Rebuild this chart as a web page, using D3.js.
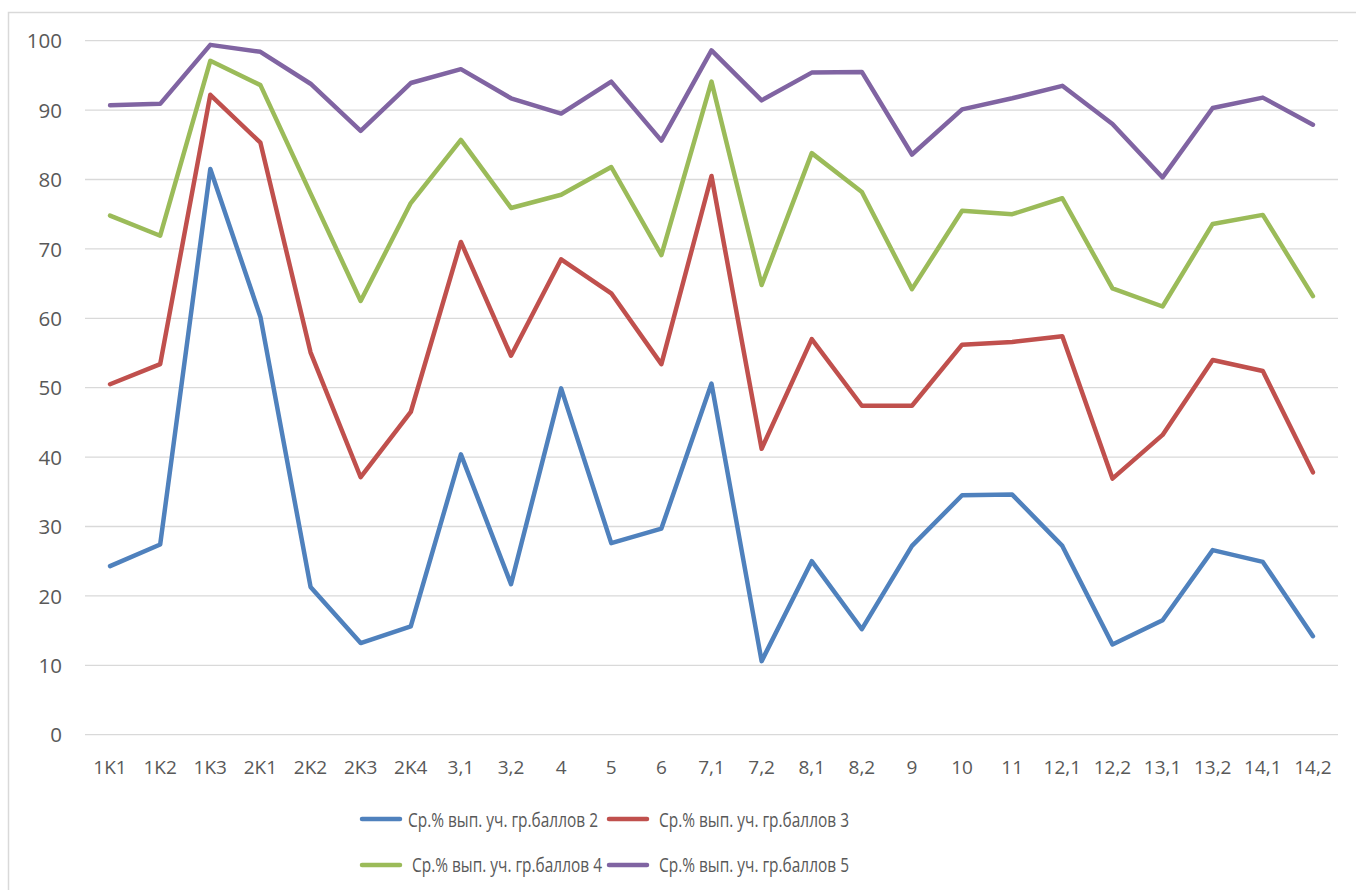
<!DOCTYPE html>
<html><head><meta charset="utf-8">
<script src="https://cdn.jsdelivr.net/npm/d3@7"></script>
<style>body{margin:0;background:#fff;} text{font-family:"Open Sans", Lato, sans-serif;}</style>
</head><body>
<svg id="c" width="1356" height="890"></svg>
<script>
const categories = ["1K1","1K2","1K3","2K1","2K2","2K3","2K4","3,1","3,2","4","5","6","7,1","7,2","8,1","8,2","9","10","11","12,1","12,2","13,1","13,2","14,1","14,2"];
const s2 = [24.3,27.4,81.5,60.2,21.3,13.2,15.6,40.4,21.7,49.9,27.6,29.7,50.6,10.6,25.0,15.2,27.2,34.5,34.6,27.2,13.0,16.5,26.6,24.9,14.2];
const s3 = [50.5,53.4,92.2,85.3,55.1,37.1,46.5,71.0,54.6,68.5,63.6,53.4,80.5,41.2,57.0,47.4,47.4,56.2,56.6,57.4,36.9,43.2,54.0,52.4,37.8];
const s4 = [74.8,71.9,97.1,93.6,78.0,62.5,76.6,85.7,75.9,77.8,81.8,69.1,94.1,64.8,83.8,78.2,64.2,75.5,75.0,77.3,64.3,61.7,73.6,74.9,63.2];
const s5 = [90.7,90.9,99.4,98.4,93.8,87.0,93.9,95.9,91.7,89.5,94.1,85.6,98.6,91.4,95.4,95.5,83.6,90.1,91.7,93.5,88.0,80.3,90.3,91.8,87.9];
const seriesNames = ["Ср.% вып. уч. гр.баллов 2","Ср.% вып. уч. гр.баллов 3","Ср.% вып. уч. гр.баллов 4","Ср.% вып. уч. гр.баллов 5"];
const colors = ["#4F81BD","#C0504D","#9BBB59","#8064A2"];
const yTicks = [0,10,20,30,40,50,60,70,80,90,100];

const svg = d3.select("#c");
svg.append("rect").attr("x",8.5).attr("y",12.5).attr("width",1360).attr("height",900)
  .attr("fill","none").attr("stroke","#D9D9D9").attr("stroke-width",1.5);

const x = d3.scaleBand().domain(categories).range([85,1338]);
const y = d3.scaleLinear().domain([0,100]).range([734.7,40.7]);

const grid = svg.append("g");
grid.selectAll("line").data(yTicks).join("line")
  .attr("x1",85).attr("x2",1338).attr("y1",d=>y(d)).attr("y2",d=>y(d))
  .attr("stroke","#D9D9D9").attr("stroke-width",1.3);

const yAxis = svg.append("g").attr("transform","translate(62,0)")
  .call(d3.axisLeft(y).tickValues(yTicks).tickSize(0).tickPadding(0));
yAxis.select(".domain").remove();
yAxis.selectAll("text").attr("fill","#595959").style("font-size","20.5px").attr("dy","0.35em");

const xAxis = svg.append("g").attr("transform","translate(0,774)")
  .call(d3.axisBottom(x).tickSize(0).tickPadding(0));
xAxis.select(".domain").remove();
xAxis.selectAll("text").attr("fill","#595959").style("font-size","19px").attr("dy","0");

const allSeries = [s2,s3,s4,s5];
const line = d3.line().x((d,i)=>x(categories[i])+x.bandwidth()/2).y(d=>y(d));
svg.append("g").selectAll("path").data(allSeries).join("path")
  .attr("d",line).attr("fill","none").attr("stroke",(d,i)=>colors[i])
  .attr("stroke-width",4.5).attr("stroke-linejoin","round").attr("stroke-linecap","round");

const legendPos = [[362,819,408,827],[609,819,659,827],[362,865,412,871.5],[609,865,659,871.5]];
const lg = svg.append("g");
seriesNames.forEach((n,i)=>{
  const [lx,ly,tx,tb] = legendPos[i];
  lg.append("line").attr("x1",lx).attr("x2",lx+38).attr("y1",ly).attr("y2",ly)
    .attr("stroke",colors[i]).attr("stroke-width",4.5).attr("stroke-linecap","round");
  lg.append("text").attr("x",tx).attr("y",tb).attr("fill","#595959")
    .style("font-size","19.5px").attr("textLength",190).attr("lengthAdjust","spacingAndGlyphs").text(n);
});
</script>
</body></html>
